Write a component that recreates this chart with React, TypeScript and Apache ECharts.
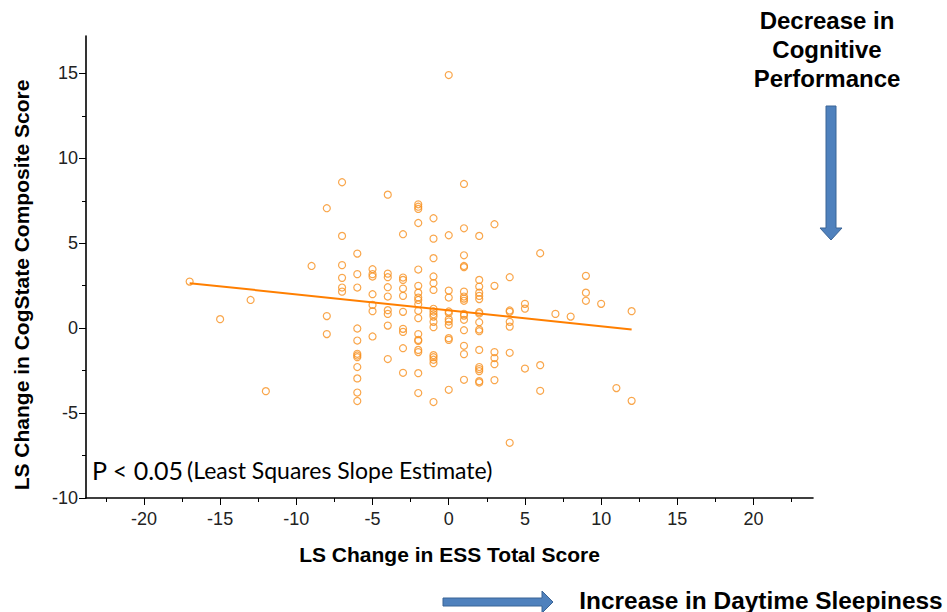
import React, { useEffect, useRef } from "react";
import * as echarts from "echarts";

// ESS change columns (x) and CogState change values (y) at each column
const essColumns = [-17, -15, -13, -12, -9, -8, -7, -6, -5, -4, -3, -2, -1, 0, 1, 2, 3, 4, 5, 6, 7, 8, 9, 10, 11, 12];
const cogColumns = [
  [2.74],
  [0.53],
  [1.66],
  [-3.71],
  [3.66],
  [7.06, 0.71, -0.35],
  [8.59, 5.43, 3.71, 2.96, 2.39, 2.15],
  [4.39, 3.18, 2.39, -0.02, -0.73, -1.51, -1.61, -1.71, -2.29, -2.96, -3.79, -4.29],
  [3.47, 3.18, 3.04, 2.0, 1.37, 1.0, -0.49],
  [7.86, 3.21, 3.0, 2.41, 1.86, 1.06, 0.84, 0.15, -1.82],
  [5.53, 2.98, 2.84, 2.33, 1.9, 0.96, -0.04, -0.22, -1.18, -2.63],
  [7.29, 7.15, 7.02, 6.19, 3.45, 2.49, 2.09, 1.8, 1.66, 1.41, 1.02, 0.59, -0.35, -0.69, -0.75, -1.28, -1.41, -2.65, -3.82],
  [6.47, 5.27, 4.12, 3.04, 2.65, 2.25, 1.14, 0.98, 0.82, 0.68, 0.37, 0.06, -1.59, -1.71, -1.86, -2.06, -4.35],
  [14.9, 5.47, 2.21, 1.8, 0.98, 0.88, 0.53, 0.39, 0.19, -0.59, -0.69, -3.63],
  [8.49, 5.88, 4.29, 3.66, 3.59, 2.15, 1.86, 1.74, 1.61, 0.84, 0.74, 0.49, -0.12, -1.04, -1.53, -3.04],
  [5.43, 2.84, 2.45, 2.09, 1.9, 1.71, 0.94, 0.86, 0.35, -0.08, -0.18, -1.28, -2.29, -2.41, -2.53, -3.12, -3.2],
  [6.12, 2.49, -1.41, -1.76, -2.12, -3.06],
  [3.0, 1.04, 0.96, 0.37, 0.09, -1.45, -6.75],
  [1.43, 1.15, -2.38],
  [4.41, -2.18, -3.69],
  [0.84],
  [0.68],
  [3.08, 2.09, 1.61],
  [1.43],
  [-3.53],
  [1.0, -4.28],
];

// Least squares fit line end points
const fitX = [-17, 12];
const fitY = [2.65, -0.08];

const xMajorTicks = [-20, -15, -10, -5, 0, 5, 10, 15, 20];
const xMinorTicks = [-22.5, -17.5, -12.5, -7.5, -2.5, 2.5, 7.5, 12.5, 17.5, 22.5];
const yMajorTicks = [-10, -5, 0, 5, 10, 15];
const yMinorTicks = [-7.5, -2.5, 2.5, 7.5, 12.5];

const ORANGE = "#F7901E";
const FONT = "'Liberation Sans', Arial, sans-serif";
const NOTE_FONT = "Lato, 'Open Sans', sans-serif";

export default function App() {
  const ref = useRef<HTMLDivElement>(null);

  useEffect(() => {
    if (!ref.current) return;
    const chart = echarts.init(ref.current, null, { renderer: "svg" });

    const points: number[][] = [];
    essColumns.forEach((x, i) => {
      cogColumns[i].forEach((y) => points.push([x, y]));
    });

    const xBase = {
      type: "value" as const,
      min: -23.8,
      max: 23.9,
      splitLine: { show: false },
      position: "bottom" as const,
    };
    const yBase = {
      type: "value" as const,
      min: -10,
      max: 17.2,
      splitLine: { show: false },
      position: "left" as const,
    };

    chart.setOption({
      animation: false,
      backgroundColor: "#ffffff",
      grid: { left: 86, right: 134, top: 36, bottom: 114, containLabel: false, outerBoundsMode: "none" },
      xAxis: [
        {
          ...xBase,
          name: "LS Change in ESS Total Score",
          nameLocation: "middle",
          nameGap: 46,
          nameTextStyle: { fontFamily: FONT, fontWeight: "bold", fontSize: 21, color: "#000" },
          axisLine: { show: true, onZero: false, lineStyle: { color: "#000", width: 1.6 } },
          axisTick: { show: true, length: 7, customValues: xMajorTicks, lineStyle: { color: "#000", width: 1 } },
          axisLabel: {
            customValues: xMajorTicks,
            fontFamily: FONT,
            fontSize: 18,
            color: "#222",
            margin: 12,
          },
        },
        {
          ...xBase,
          axisLine: { show: false, onZero: false },
          axisTick: { show: true, length: 4, customValues: xMinorTicks, lineStyle: { color: "#000", width: 1 } },
          axisLabel: { show: false },
        },
      ],
      yAxis: [
        {
          ...yBase,
          axisLine: { show: true, onZero: false, lineStyle: { color: "#000", width: 1.6 } },
          axisTick: { show: true, length: 7, customValues: yMajorTicks, lineStyle: { color: "#000", width: 1 } },
          axisLabel: {
            customValues: yMajorTicks,
            fontFamily: FONT,
            fontSize: 18,
            color: "#222",
            margin: 8,
          },
        },
        {
          ...yBase,
          axisLine: { show: false, onZero: false },
          axisTick: { show: true, length: 4, customValues: yMinorTicks, lineStyle: { color: "#000", width: 1 } },
          axisLabel: { show: false },
        },
      ],
      series: [
        {
          type: "scatter",
          xAxisIndex: 0,
          yAxisIndex: 0,
          data: points,
          symbol: "circle",
          symbolSize: 7,
          itemStyle: { color: "rgba(0,0,0,0)", borderColor: ORANGE, borderWidth: 1.2 },
          silent: true,
        },
        {
          type: "line",
          xAxisIndex: 0,
          yAxisIndex: 0,
          data: fitX.map((x, i) => [x, fitY[i]]),
          symbol: "none",
          lineStyle: { color: "#FF7F00", width: 2 },
          silent: true,
        },
      ],
      graphic: [
        {
          type: "text",
          x: 21,
          y: 285,
          rotation: Math.PI / 2,
          style: {
            text: "LS Change in CogState Composite Score",
            align: "center",
            verticalAlign: "middle",
            fontFamily: FONT,
            fontWeight: "bold",
            fontSize: 21,
            fill: "#000",
          },
        },
        {
          type: "text",
          x: 92,
          y: 470,
          style: {
            text: "{a|P < 0.05} {b|(Least Squares Slope Estimate)}",
            verticalAlign: "middle",
            rich: {
              a: { fontFamily: NOTE_FONT, fontSize: 25, fill: "#000" },
              b: { fontFamily: NOTE_FONT, fontSize: 23, fill: "#000" },
            },
          },
        },
        {
          type: "text",
          x: 827,
          y: 6,
          style: {
            text: "Decrease in\nCognitive\nPerformance",
            align: "center",
            fontFamily: FONT,
            fontWeight: "bold",
            fontSize: 24,
            lineHeight: 29,
            fill: "#000",
          },
        },
        {
          type: "polygon",
          shape: {
            points: [
              [826, 106],
              [836, 106],
              [836, 228],
              [842, 228],
              [831, 240],
              [820, 228],
              [826, 228],
            ],
          },
          style: { fill: "#4F81BD", stroke: "#3A6496", lineWidth: 1 },
        },
        {
          type: "polygon",
          shape: {
            points: [
              [443, 598],
              [542, 598],
              [542, 591],
              [553, 602],
              [542, 613],
              [542, 606],
              [443, 606],
            ],
          },
          style: { fill: "#4F81BD", stroke: "#3A6496", lineWidth: 1 },
        },
        {
          type: "text",
          x: 761,
          y: 600,
          style: {
            text: "Increase in Daytime Sleepiness",
            align: "center",
            verticalAlign: "middle",
            fontFamily: FONT,
            fontWeight: "bold",
            fontSize: 24.4,
            fill: "#000",
          },
        },
      ],
    });

    return () => chart.dispose();
  }, []);

  return (
    <div
      ref={ref}
      style={{ position: "absolute", left: 0, top: 0, width: 947, height: 612 }}
    />
  );
}
